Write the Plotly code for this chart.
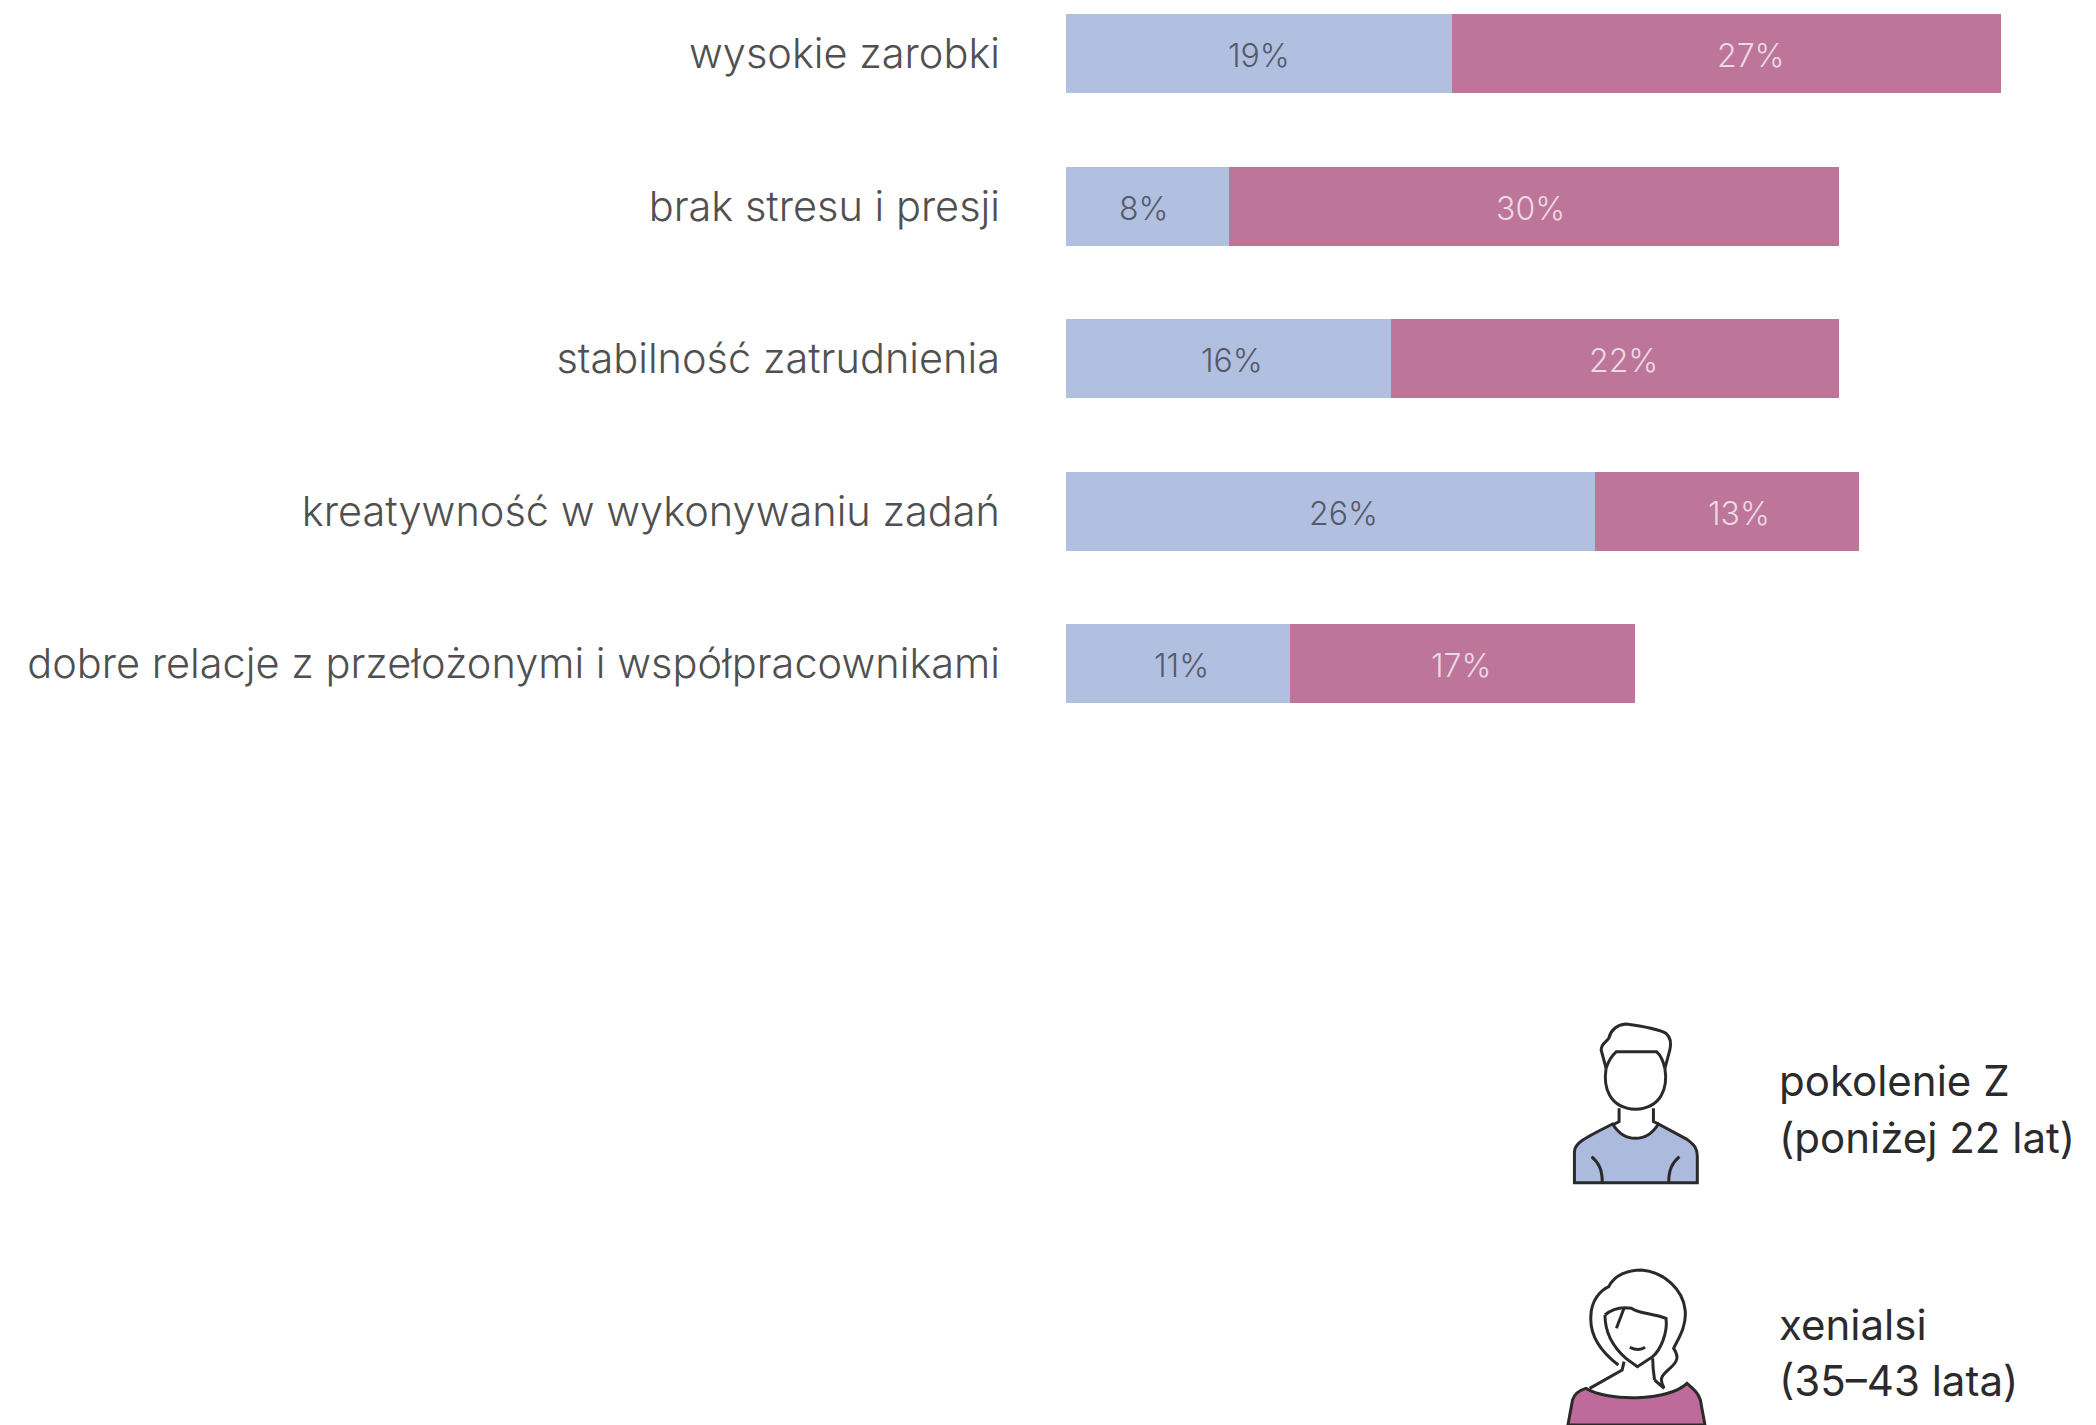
import re
import plotly.graph_objects as go

W, H = 2096, 1425

categories = ["wysokie zarobki", "brak stresu i presji", "stabilność zatrudnienia",
              "kreatywność w wykonywaniu zadań",
              "dobre relacje z przełożonymi i współpracownikami"]
pokolenie_z = [19, 8, 16, 26, 11]
xenialsi = [27, 30, 22, 13, 17]
series_names = ["pokolenie Z (poniżej 22 lat)", "xenialsi (35–43 lata)"]
legend_lines = [["pokolenie Z", "(poniżej 22 lat)"], ["xenialsi", "(35–43 lata)"]]

# horizontal nudges of the value labels, in pixels, as placed in the reference
shift_z = [0, -3, 3, 13, 4]
shift_x = [24, -3, 9, 12, -1]

BLUE, PINK = "#B1C0E1", "#BD7599"
FONT = "Inter"

fig = go.Figure()
fig.add_bar(y=categories, x=pokolenie_z, name=series_names[0], orientation="h",
            marker=dict(color=BLUE, line=dict(width=0)), hoverinfo="skip")
fig.add_bar(y=categories, x=xenialsi, name=series_names[1], orientation="h",
            marker=dict(color=PINK, line=dict(width=0)), hoverinfo="skip")

annotations = []
for cat, a, b, sa, sb in zip(categories, pokolenie_z, xenialsi, shift_z, shift_x):
    annotations.append(dict(text=f"{a}%", x=a / 2, y=cat, xref="x", yref="y", showarrow=False,
                            xshift=sa, yshift=-2,
                            font=dict(family=FONT, size=32, color="#565A68", weight=300)))
    annotations.append(dict(text=f"{b}%", x=a + b / 2, y=cat, xref="x", yref="y", showarrow=False,
                            xshift=sb, yshift=-2,
                            font=dict(family=FONT, size=32, color="#EBD9E3", weight=300)))

# icons: path strings traced on a crop of the reference (crop space -> page px -> paper)
def conv(path):
    out, isx = [], True
    for tok in re.findall(r"[A-Za-z]|-?\d+\.?\d*", path):
        if tok.isalpha():
            out.append(tok); isx = True
        elif isx:
            out.append(f"{(1500 + float(tok) / 2.62) / W:.5f}"); isx = False
        else:
            out.append(f"{1 - (1000 + float(tok) / 3) / H:.5f}"); isx = True
    return " ".join(out)

INK = "#2A2A2A"
man_body = "M195,548 L195,455 C195,430 220,415 295,372 C310,400 330,415 355,415 C380,415 400,400 415,372 L490,418 C510,435 517,445 517,470 L517,548 Z"
man_lines = [
    "M278,205 C270,260 285,325 355,328 C425,325 440,260 432,205",
    "M278,205 C285,180 295,165 305,155 L410,155 C420,165 428,185 432,205",
    "M278,205 L265,150 C265,130 280,125 285,115 C290,90 305,75 330,72 C370,78 410,85 435,100 C450,115 448,135 445,150 L432,205",
    "M312,325 L312,365 L295,375", "M402,325 L402,365 L415,372",
    "M240,470 C260,490 268,510 268,548", "M470,470 C450,490 442,510 442,548",
]
woman_body = "M178,1275 L190,1200 C195,1180 210,1170 225,1165 C280,1205 440,1205 490,1150 C510,1170 520,1180 525,1200 L537,1275 Z"
woman_lines = [
    "M310,1095 C270,1060 235,1010 238,950 C238,900 265,870 285,860 C300,825 335,810 370,810 C430,815 480,870 485,930 C490,980 465,1020 455,1045 C470,1070 465,1085 445,1105 C425,1125 415,1135 430,1165 L405,1140",
    "M275,945 C295,925 320,920 345,925 C360,940 400,940 435,955 C440,1000 420,1050 400,1070 L360,1100 L330,1075 C300,1045 275,1000 275,945",
    "M325,925 L305,985", "M340,1042 C355,1050 370,1050 380,1042",
    "M325,1085 L320,1110 L235,1165", "M400,1075 C400,1105 403,1125 405,1140",
]
shapes = []
for body, col, lines in [(man_body, "#ABBADD", man_lines), (woman_body, "#BE6A9B", woman_lines)]:
    shapes.append(dict(type="path", xref="paper", yref="paper", path=conv(body), fillcolor=col,
                       line=dict(color=INK, width=3)))
    for p in lines:
        shapes.append(dict(type="path", xref="paper", yref="paper", path=conv(p),
                           fillcolor="rgba(0,0,0,0)", line=dict(color=INK, width=3)))

for lines, ys in zip(legend_lines, [(1080, 1137), (1324, 1380)]):
    for t, y in zip(lines, ys):
        annotations.append(dict(text=t, xref="paper", yref="paper", x=1777 / W, y=1 - y / H,
                                xanchor="left", yanchor="middle", showarrow=False,
                                font=dict(family=FONT, size=42, color="#2B2B2B")))

PLOT_L, PLOT_B = 1066, 800
fig.update_layout(
    width=W, height=H, barmode="stack", bargap=0.483, showlegend=False,
    margin=dict(l=0, r=0, t=0, b=0), paper_bgcolor="white", plot_bgcolor="white",
    shapes=shapes, annotations=annotations,
    xaxis=dict(domain=[PLOT_L / W, 1], range=[0, (W - PLOT_L) / 20.33], visible=False, fixedrange=True),
    yaxis=dict(domain=[1 - PLOT_B / H, 1], range=[(PLOT_B - 53.5) / 152.6, -53.5 / 152.6],
               showgrid=False, zeroline=False, showline=False, ticks="",
               ticklabelstandoff=65, tickfont=dict(family=FONT, size=41.5, color="#505050", weight=300)),
)
fig.write_html("out.html", config=dict(displayModeBar=False),
               post_script="document.body.style.margin='0';document.documentElement.style.overflow='hidden';")
